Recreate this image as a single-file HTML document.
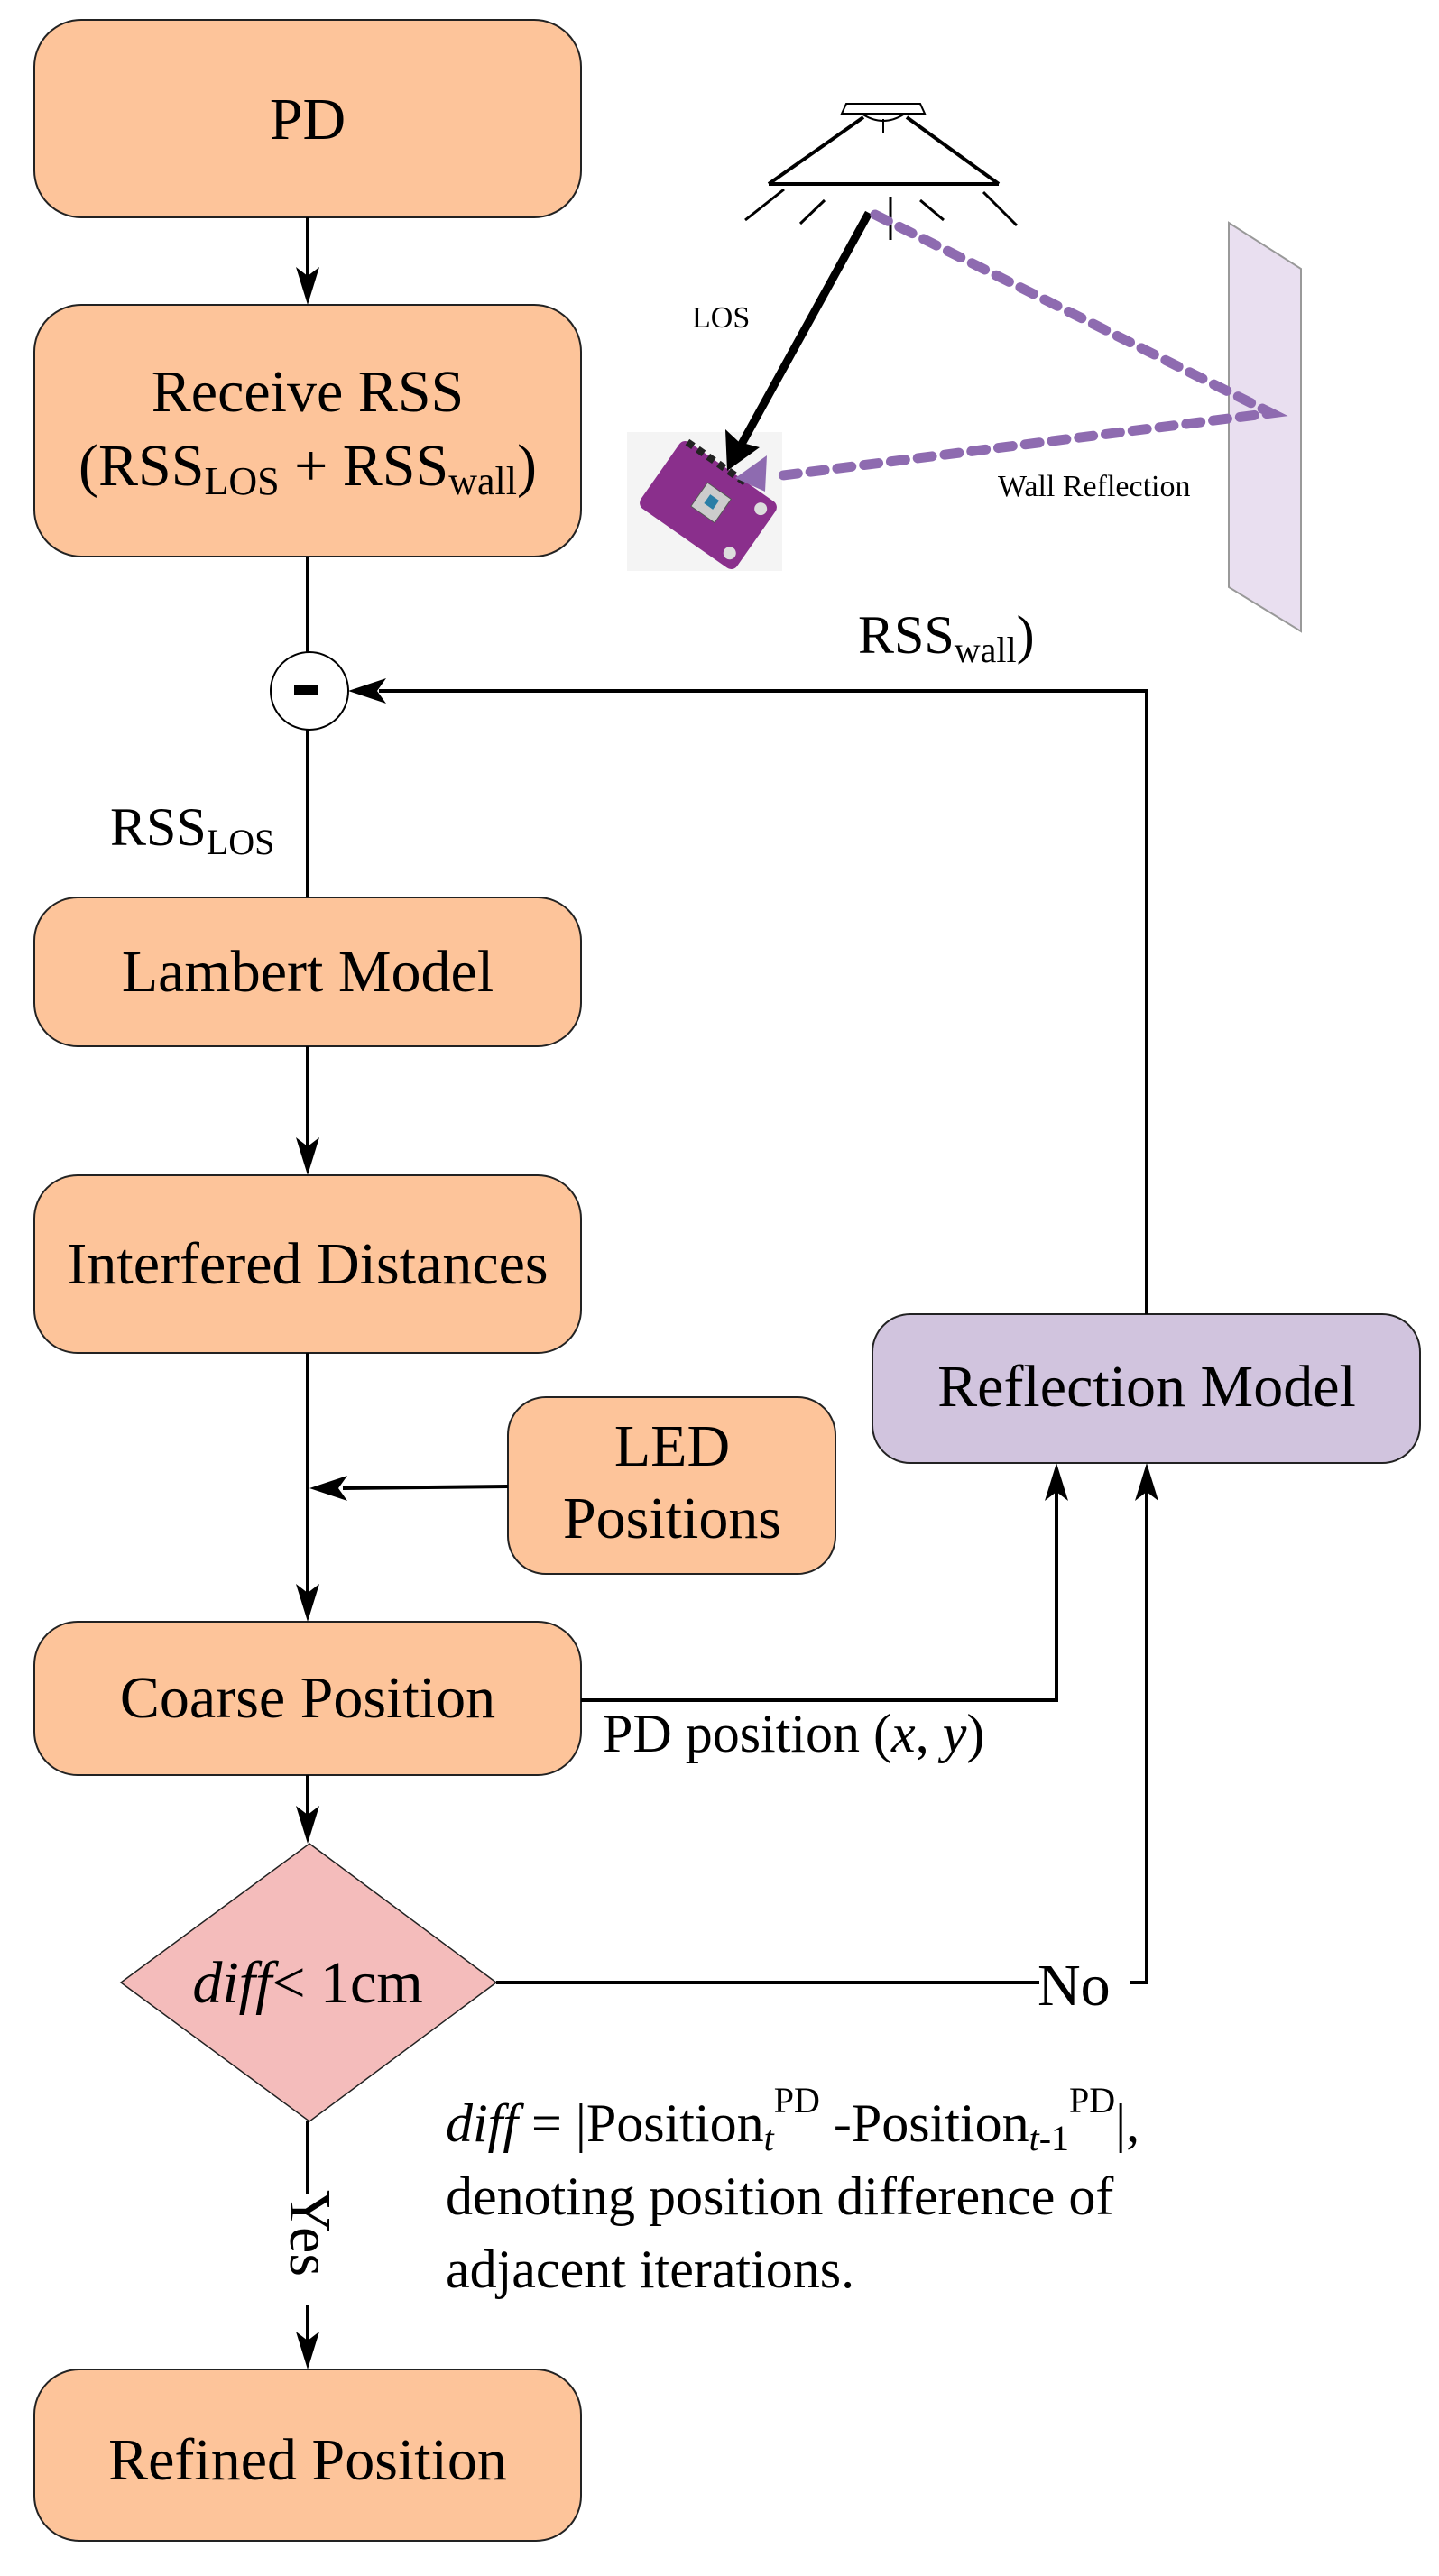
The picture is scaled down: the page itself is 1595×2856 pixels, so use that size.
<!DOCTYPE html>
<html><head><meta charset="utf-8"><style>
html,body{margin:0;padding:0;background:#fff}
svg{display:block}
text{font-family:"Liberation Serif","DejaVu Serif",serif;fill:#000}
</style></head><body>
<svg width="1595" height="2856" viewBox="0 0 1595 2856" xmlns="http://www.w3.org/2000/svg" font-family="Liberation Serif, DejaVu Serif, serif">
<g stroke="#222" stroke-width="2" fill="#fdc49a">
<rect x="38" y="22" width="606" height="219" rx="52"/>
<rect x="38" y="338" width="606" height="279" rx="52"/>
<rect x="38" y="995" width="606" height="165" rx="48"/>
<rect x="38" y="1303" width="606" height="197" rx="48"/>
<rect x="563" y="1549" width="363" height="196" rx="42"/>
<rect x="38" y="1798" width="606" height="170" rx="48"/>
<rect x="38" y="2627" width="606" height="190" rx="50"/>
<rect x="967" y="1457" width="607" height="165" rx="42" fill="#d1c4de"/>
<polygon points="343,2044 550,2198 343,2352 134,2198" fill="#f4bcbb" stroke-width="1.5"/>
</g>
<g stroke="#000" stroke-width="4" fill="none">
<line x1="341" y1="241" x2="341" y2="310"/>
<line x1="341" y1="617" x2="341" y2="723"/>
<line x1="341" y1="809" x2="341" y2="995"/>
<line x1="341" y1="1160" x2="341" y2="1275"/>
<line x1="341" y1="1500" x2="341" y2="1770"/>
<line x1="563" y1="1648" x2="380" y2="1650"/>
<line x1="341" y1="1968" x2="341" y2="2016"/>
<line x1="341" y1="2352" x2="341" y2="2432"/>
<line x1="341" y1="2556" x2="341" y2="2600"/>
<polyline points="644,1885 1171,1885 1171,1650"/>
<polyline points="550,2198 1152,2198"/>
<polyline points="1252,2198 1271,2198 1271,1650"/>
<polyline points="1271,1457 1271,766 420,766"/>
</g>
<g fill="#000">
<polygon points="341,338 328,296 341,306 354,296"/>
<polygon points="341,1303 328,1261 341,1271 354,1261"/>
<polygon points="341,1798 328,1756 341,1766 354,1756"/>
<polygon points="341,2044 328,2002 341,2012 354,2002"/>
<polygon points="341,2627 328,2585 341,2595 354,2585"/>
<polygon points="343,1650 385,1636 375,1650 385,1664"/>
<polygon points="386,766 428,752 418,766 428,780"/>
<polygon points="1171,1622 1158,1664 1171,1654 1184,1664"/>
<polygon points="1271,1622 1258,1664 1271,1654 1284,1664"/>
</g>
<ellipse cx="343" cy="766" rx="43" ry="43" fill="#fff" stroke="#000" stroke-width="2"/>
<rect x="326" y="760" width="26" height="11" fill="#000"/>
<g font-size="66" text-anchor="middle">
<text x="341" y="154">PD</text>
<text x="341" y="456">Receive RSS</text>
<text x="341" y="538">(RSS<tspan font-size="44" dy="10">LOS</tspan><tspan dy="-10"> + RSS</tspan><tspan font-size="44" dy="10">wall</tspan><tspan dy="-10">)</tspan></text>
<text x="341" y="1099">Lambert Model</text>
<text x="341" y="1423">Interfered Distances</text>
<text x="745" y="1625">LED</text>
<text x="745" y="1705">Positions</text>
<text x="1271" y="1559">Reflection Model</text>
<text x="341" y="1904">Coarse Position</text>
<text x="341" y="2220"><tspan font-style="italic">diff</tspan>&lt; 1cm</text>
<text x="341" y="2749">Refined Position</text>
</g>
<g font-size="60">
<text x="951" y="724">RSS<tspan font-size="40" dy="10">wall</tspan><tspan dy="-10">)</tspan></text>
<text x="122" y="937">RSS<tspan font-size="40" dy="10">LOS</tspan></text>
<text x="668" y="1942">PD position (<tspan font-style="italic">x</tspan>, <tspan font-style="italic">y</tspan>)</text>
<text x="1150" y="2223" font-size="66">No</text>
<text x="494" y="2374"><tspan font-style="italic">diff</tspan> = |Position<tspan font-size="40" dy="10" font-style="italic">t</tspan><tspan font-size="40" dy="-42">PD</tspan><tspan dy="32"> -Position</tspan><tspan font-size="40" dy="10"><tspan font-style="italic">t</tspan>-1</tspan><tspan font-size="40" dy="-42">PD</tspan><tspan dy="32">|,</tspan></text>
<text x="494" y="2455">denoting position difference of</text>
<text x="494" y="2536">adjacent iterations.</text>
</g>
<rect x="318" y="2432" width="46" height="124" fill="#fff"/>
<text x="0" y="0" font-size="66" transform="translate(322,2428) rotate(90)">Yes</text>
<!-- illustration -->
<polygon points="1362,247 1442,298 1442,700 1362,651" fill="#e9dff0" stroke="#999" stroke-width="2"/>
<rect x="695" y="479" width="172" height="154" fill="#f4f4f4"/>
<g transform="rotate(35 785 560)">
<rect x="720" y="515" width="130" height="90" rx="8" fill="#8a2f8c"/>
<rect x="770" y="540" width="32" height="32" fill="#ccc" stroke="#555"/>
<rect x="780" y="549" width="12" height="12" fill="#2a7ea6"/>
<g fill="#222"><rect x="726" y="512" width="8" height="8"/><rect x="740" y="512" width="8" height="8"/><rect x="754" y="512" width="8" height="8"/><rect x="768" y="512" width="8" height="8"/><rect x="782" y="512" width="8" height="8"/><rect x="796" y="512" width="8" height="8"/></g>
<circle cx="835" cy="530" r="7" fill="#ddd"/><circle cx="835" cy="590" r="7" fill="#ddd"/>
</g>
<g stroke="#000" fill="none">
<polygon points="938,115 1020,115 1025,126 933,126" stroke-width="2" fill="#fff"/>
<path d="M955,126 Q979,142 1003,126" stroke-width="2"/>
<polyline points="852,204 957,130" stroke-width="4"/>
<polyline points="1107,204 1005,130" stroke-width="4"/>
<line x1="852" y1="204" x2="1107" y2="204" stroke-width="4"/>
<line x1="979" y1="132" x2="979" y2="148" stroke-width="2"/>
<line x1="826" y1="244" x2="869" y2="210" stroke-width="3"/>
<line x1="887" y1="248" x2="914" y2="222" stroke-width="3"/>
<line x1="987" y1="218" x2="987" y2="266" stroke-width="3"/>
<line x1="1020" y1="222" x2="1046" y2="244" stroke-width="3"/>
<line x1="1090" y1="213" x2="1127" y2="250" stroke-width="3"/>
<line x1="963" y1="236" x2="820" y2="496" stroke-width="9"/>
</g>
<polygon points="806,522 804,476 819,490 842,496" fill="#000"/>
<polyline points="970,238 1409,458 860,528" fill="none" stroke="#8e6bb0" stroke-width="11" stroke-dasharray="16,14" stroke-linecap="round"/>
<polygon points="815,530 850,505 848,545" fill="#8e6bb0"/>
<text x="767" y="363" font-size="34">LOS</text>
<text x="1106" y="550" font-size="34">Wall Reflection</text>
</svg>
</body></html>
